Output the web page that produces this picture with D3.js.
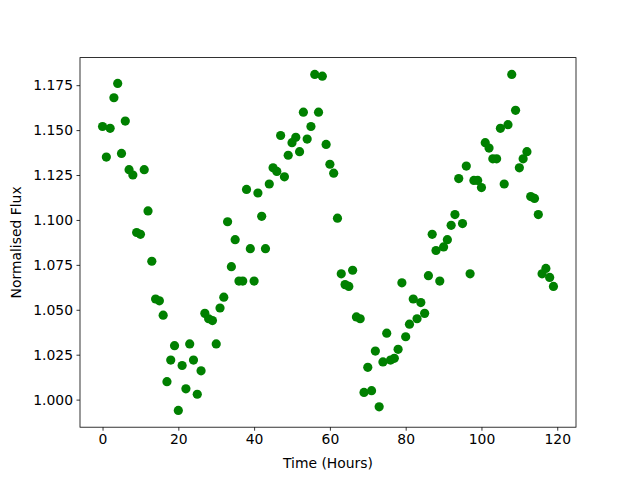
<!DOCTYPE html>
<html>
<head>
<meta charset="utf-8">
<script src="https://cdn.jsdelivr.net/npm/d3@7"></script>
<style>
	body { margin: 0; background: #fff; }
	svg { display: block; font-family: "DejaVu Sans", sans-serif; }
</style>
</head>
<body>
<div id="chart"></div>
<script>
// hours 0..119, one reading each
const hours = d3.range(0, 120);
const flux = [
	1.152, 1.135, 1.151, 1.168, 1.176, 1.137, 1.155, 1.128, 1.125, 1.093,
	1.092, 1.128, 1.105, 1.077, 1.056, 1.055, 1.047, 1.010, 1.022, 1.030,
	0.994, 1.019, 1.006, 1.031, 1.022, 1.003, 1.016, 1.048, 1.045, 1.044,
	1.031, 1.051, 1.057, 1.099, 1.074, 1.089, 1.066, 1.066, 1.117, 1.084,
	1.066, 1.115, 1.102, 1.084, 1.120, 1.129, 1.127, 1.147, 1.124, 1.136,
	1.143, 1.146, 1.138, 1.160, 1.145, 1.152, 1.181, 1.160, 1.180, 1.142,
	1.131, 1.126, 1.101, 1.070, 1.064, 1.063, 1.072, 1.046, 1.045, 1.004,
	1.018, 1.005, 1.027, 0.996, 1.021, 1.037, 1.022, 1.023, 1.028, 1.065,
	1.035, 1.042, 1.056, 1.045, 1.054, 1.048, 1.069, 1.092, 1.083, 1.066,
	1.085, 1.089, 1.097, 1.103, 1.123, 1.098, 1.130, 1.070, 1.122, 1.122,
	1.118, 1.143, 1.140, 1.134, 1.134, 1.151, 1.120, 1.153, 1.181, 1.161,
	1.129, 1.134, 1.138, 1.113, 1.112, 1.103, 1.070, 1.073, 1.068, 1.063
];
const xTicks = [0, 20, 40, 60, 80, 100, 120];
const yTicks = [1.000, 1.025, 1.050, 1.075, 1.100, 1.125, 1.150, 1.175];

const width = 640,
	height = 480,
	margin = { top: 57.6, right: 64, bottom: 52.8, left: 80 };

const svg = d3
	.select("#chart")
	.append("svg")
	.attr("width", width)
	.attr("height", height);

// matplotlib-style 5% padding around the data
const xPad = (d3.max(hours) - d3.min(hours)) * 0.05;
const yPad = (d3.max(flux) - d3.min(flux)) * 0.05;

const x = d3
	.scaleLinear()
	.domain([d3.min(hours) - xPad, d3.max(hours) + xPad])
	.range([margin.left, width - margin.right]);
const y = d3
	.scaleLinear()
	.domain([d3.min(flux) - yPad, d3.max(flux) + yPad])
	.range([height - margin.bottom, margin.top]);

const data = hours.map((h, i) => ({ h: h, f: flux[i] }));

svg.append("g")
	.selectAll("circle")
	.data(data)
	.enter()
	.append("circle")
	.attr("cx", (d) => x(d.h))
	.attr("cy", (d) => y(d.f))
	.attr("r", 4.6)
	.attr("fill", "#008000");

const xAxis = svg
	.append("g")
	.attr("transform", `translate(0,${height - margin.bottom})`)
	.call(d3.axisBottom(x).tickValues(xTicks).tickSize(3.5).tickPadding(3.5).tickSizeOuter(0));
const yAxis = svg
	.append("g")
	.attr("transform", `translate(${margin.left},0)`)
	.call(d3.axisLeft(y).tickValues(yTicks).tickFormat(d3.format(".3f")).tickSize(3.5).tickPadding(3.5).tickSizeOuter(0));

[xAxis, yAxis].forEach((a) => {
	a.select(".domain").remove();
	a.selectAll("text").attr("font-size", "13.9px").attr("font-family", "DejaVu Sans").attr("fill", "#000");
	a.selectAll("line").attr("stroke", "#000").attr("stroke-width", 0.8);
});

// axes frame
svg.append("rect")
	.attr("x", margin.left)
	.attr("y", margin.top)
	.attr("width", width - margin.left - margin.right)
	.attr("height", height - margin.top - margin.bottom)
	.attr("fill", "none")
	.attr("stroke", "#000")
	.attr("stroke-width", 0.8);

svg.append("text")
	.attr("x", (margin.left + width - margin.right) / 2)
	.attr("y", 468)
	.attr("text-anchor", "middle")
	.attr("font-size", "13.9px")
	.text("Time (Hours)");

svg.append("text")
	.attr("transform", `translate(21,${(margin.top + height - margin.bottom) / 2}) rotate(-90)`)
	.attr("text-anchor", "middle")
	.attr("font-size", "13.9px")
	.text("Normalised Flux");
</script>
</body>
</html>
